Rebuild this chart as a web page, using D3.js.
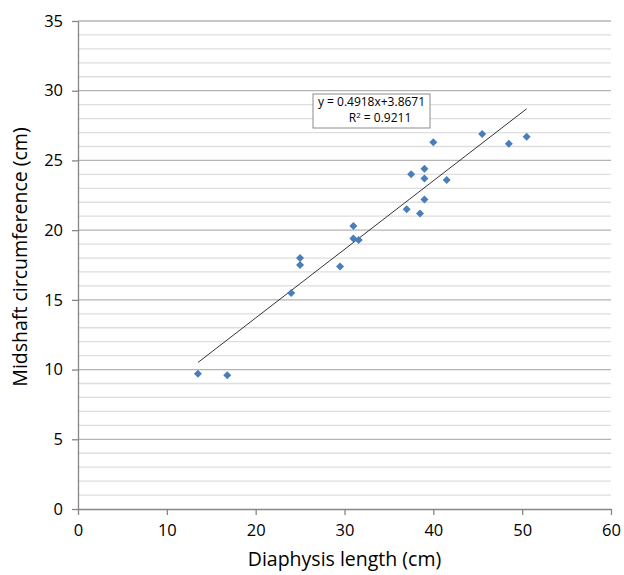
<!DOCTYPE html>
<html>
<head>
<meta charset="utf-8">
<script src="https://cdn.jsdelivr.net/npm/d3@7"></script>
<style>
  body { margin: 0; background: #fff; }
  text { font-family: "Open Sans", "Noto Sans", sans-serif; }
</style>
</head>
<body>
<div id="chart"></div>
<script>
// diaphysis length (cm) vs midshaft circumference (cm)
var lengths = [13.5, 16.8, 24.0, 25.0, 25.0, 29.5, 31.0, 31.0, 31.6, 37.0, 38.5, 39.0, 37.5, 39.0, 39.0, 41.5, 40.0, 45.5, 48.5, 50.5];
var circs   = [9.7, 9.6, 15.5, 17.5, 18.0, 17.4, 20.3, 19.4, 19.3, 21.5, 21.2, 22.2, 24.0, 24.4, 23.7, 23.6, 26.3, 26.9, 26.2, 26.7];
var xTicks = [0, 10, 20, 30, 40, 50, 60];
var yTicks = [0, 5, 10, 15, 20, 25, 30, 35];
var slope = 0.4918, intercept = 3.8671;
var eqText = "y = 0.4918x+3.8671";
var r2Value = "0.9211";

var width = 624, height = 575;
var margin = { top: 21, left: 78, right: 13, bottom: 66 };

var svg = d3.select("#chart").append("svg")
    .attr("width", width)
    .attr("height", height);

var x = d3.scaleLinear().domain([0, 60]).range([margin.left, width - margin.right]);
var y = d3.scaleLinear().domain([0, 35]).range([height - margin.bottom, margin.top]);

// minor gridlines every 1 unit
svg.append("g").selectAll("line")
    .data(d3.range(1, 35).filter(function(d) { return d % 5 !== 0; }))
    .enter().append("line")
    .attr("x1", x(0)).attr("x2", x(60))
    .attr("y1", function(d) { return y(d); })
    .attr("y2", function(d) { return y(d); })
    .attr("stroke", "#dedede").attr("stroke-width", 1.3);

// major gridlines
svg.append("g").selectAll("line")
    .data(yTicks.slice(1))
    .enter().append("line")
    .attr("x1", x(0)).attr("x2", x(60))
    .attr("y1", function(d) { return y(d); })
    .attr("y2", function(d) { return y(d); })
    .attr("stroke", "#b4b4b4").attr("stroke-width", 1.3);

var xAxis = svg.append("g")
    .attr("transform", "translate(0," + y(0) + ")")
    .call(d3.axisBottom(x).tickValues(xTicks).tickSize(6).tickPadding(9).tickSizeOuter(0));
var yAxis = svg.append("g")
    .attr("transform", "translate(" + x(0) + ",0)")
    .call(d3.axisLeft(y).tickValues(yTicks).tickSize(6).tickPadding(9).tickSizeOuter(0));

[xAxis, yAxis].forEach(function(a) {
  a.select(".domain").attr("stroke", "#868686").attr("stroke-width", 1.3);
  a.selectAll(".tick line").attr("stroke", "#868686").attr("stroke-width", 1.3);
  a.selectAll(".tick text").attr("fill", "#000").style("font-size", "16.5px")
    .style("font-family", "'Open Sans', sans-serif");
});

// trend line
var x0 = d3.min(lengths), x1 = d3.max(lengths);
svg.append("line")
    .attr("x1", x(x0)).attr("y1", y(slope * x0 + intercept))
    .attr("x2", x(x1)).attr("y2", y(slope * x1 + intercept))
    .attr("stroke", "#000").attr("stroke-width", 0.8);

// points
svg.append("g").selectAll("path")
    .data(lengths)
    .enter().append("path")
    .attr("d", "M0,-4L4,0L0,4L-4,0Z")
    .attr("transform", function(d, i) { return "translate(" + x(d) + "," + y(circs[i]) + ")"; })
    .attr("fill", "#4a7ebb");

// equation label
var box = svg.append("g").attr("transform", "translate(313,94)");
box.append("rect").attr("width", 117).attr("height", 34)
    .attr("fill", "#fff").attr("stroke", "#8c8c8c").attr("stroke-width", 1);
box.append("text").attr("x", 58.5).attr("y", 12).attr("text-anchor", "middle")
    .style("font-size", "12px").text(eqText);
var r2 = box.append("text").attr("x", 67).attr("y", 28).attr("text-anchor", "middle")
    .style("font-size", "12px");
r2.append("tspan").text("R");
r2.append("tspan").attr("dy", -4).style("font-size", "8px").text("2");
r2.append("tspan").attr("dy", 4).text(" = " + r2Value);

// axis titles
svg.append("text")
    .attr("x", (x(0) + x(60)) / 2).attr("y", 566)
    .attr("text-anchor", "middle").style("font-size", "19.5px")
    .text("Diaphysis length (cm)");
svg.append("text")
    .attr("transform", "translate(27,257) rotate(-90)")
    .attr("text-anchor", "middle").style("font-size", "19.5px")
    .text("Midshaft circumference (cm)");
</script>
</body>
</html>
